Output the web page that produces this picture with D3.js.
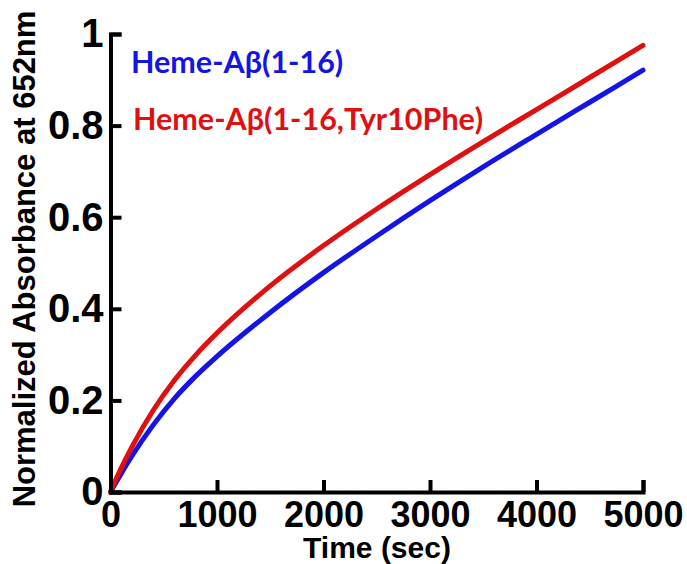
<!DOCTYPE html>
<html>
<head>
<meta charset="utf-8">
<script src="https://cdn.jsdelivr.net/npm/d3@7"></script>
<style>
  html, body { margin: 0; padding: 0; background: #fff; }
  svg { display: block; }
</style>
</head>
<body>
<svg id="chart" width="687" height="564"></svg>
<script>
// Kinetic traces: normalized absorbance at 652 nm versus time (s)
const timeSec = [0, 100, 200, 400, 600, 800, 1000, 1500, 2000, 2500, 3000, 3500, 4000, 4500, 5000];
const wildType = [0, 0.04, 0.078, 0.146, 0.204, 0.253, 0.296, 0.392, 0.479, 0.559, 0.636, 0.71, 0.781, 0.851, 0.921];
const tyr10Phe = [0, 0.052, 0.098, 0.178, 0.244, 0.299, 0.347, 0.45, 0.538, 0.618, 0.693, 0.765, 0.835, 0.905, 0.975];

const seriesNames = ["Heme-A\u03B2(1-16)", "Heme-A\u03B2(1-16,Tyr10Phe)"];
const seriesColors = ["#1414e6", "#e01010"];

const xTicks = [0, 1000, 2000, 3000, 4000, 5000];
const yTicks = [0, 0.2, 0.4, 0.6, 0.8, 1];
const xTitle = "Time (sec)";
const yTitle = "Normalized Absorbance at 652nm";

const svg = d3.select("#chart");
const plotLeft = 110.5, plotRight = 643, plotTop = 34, plotBottom = 492;

const x = d3.scaleLinear().domain([0, 5000]).range([plotLeft, plotRight]);
const y = d3.scaleLinear().domain([0, 1]).range([plotBottom, plotTop]);

const axisFont = "'Liberation Sans', Arial, sans-serif";

// Curves
const line = d3.line()
  .x((d, i) => x(timeSec[i]))
  .y(d => y(d))
  .curve(d3.curveMonotoneX);

[wildType, tyr10Phe].forEach((vals, k) => {
  svg.append("path")
    .attr("d", line(vals))
    .attr("fill", "none")
    .attr("stroke", seriesColors[k])
    .attr("stroke-width", 5)
    .attr("stroke-linecap", "round");
});

// Axes with inward ticks
const xAxis = d3.axisBottom(x).tickValues(xTicks).tickSize(-12).tickSizeOuter(-12).tickPadding(9)
  .tickFormat(d3.format("d"));
const gx = svg.append("g").attr("transform", `translate(0,${plotBottom})`).call(xAxis);

const yAxis = d3.axisLeft(y).tickValues(yTicks).tickSize(-11).tickSizeOuter(-11).tickPadding(7)
  .tickFormat(d => d === 0 || d === 1 ? String(d) : d3.format(".1f")(d));
const gy = svg.append("g").attr("transform", `translate(${plotLeft},0)`).call(yAxis);

[gx, gy].forEach(g => {
  g.select(".domain").attr("stroke", "#000").attr("stroke-width", 4);
  g.selectAll(".tick line").attr("stroke", "#000").attr("stroke-width", 4);
  g.selectAll(".tick text")
    .attr("fill", "#000")
    .style("font-family", axisFont)
    .style("font-weight", "bold");
});
gx.selectAll(".tick text").attr("dy", "0.71em").style("font-size", "36px");
gy.selectAll(".tick text").style("font-size", "40px");

// Axis titles
svg.append("text")
  .attr("x", 377)
  .attr("y", 558)
  .attr("text-anchor", "middle")
  .style("font-family", axisFont)
  .style("font-weight", "bold")
  .style("font-size", "30px")
  .text(xTitle);

svg.append("text")
  .attr("transform", `translate(35,259) rotate(-90)`)
  .attr("text-anchor", "middle")
  .style("font-family", axisFont)
  .style("font-weight", "bold")
  .style("font-size", "31px")
  .text(yTitle);

// Legend labels
const legendY = [73, 130];
seriesNames.forEach((name, k) => {
  svg.append("text")
    .attr("x", k === 0 ? 131 : 133)
    .attr("y", legendY[k])
    .attr("fill", seriesColors[k])
    .style("font-family", "Lato, 'Open Sans', sans-serif")
    .style("font-weight", "bold")
    .style("font-size", "30.5px")
    .text(name);
});
</script>
</body>
</html>
